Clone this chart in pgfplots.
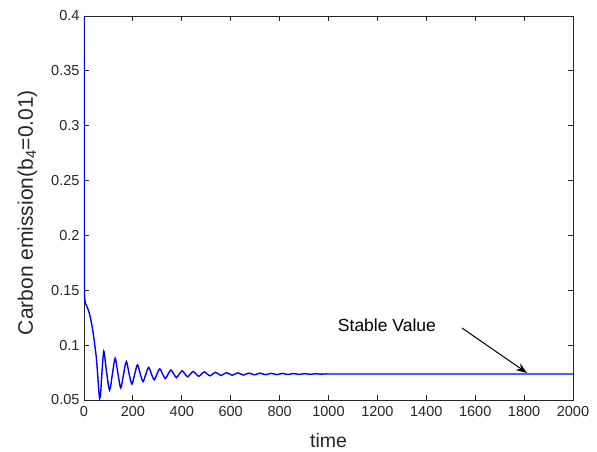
\documentclass[border=0pt]{standalone}
\usepackage{fontspec}
\setmainfont{Liberation Sans}
\usepackage{pgfplots}
\pgfplotsset{compat=1.18}
\usetikzlibrary{arrows.meta}
\definecolor{axgray}{RGB}{38,38,38}
\definecolor{mblue}{RGB}{0,0,255}
\begin{document}
\begin{tikzpicture}
\begin{axis}[
  scale only axis,
  width=489pt, height=384pt,
  xmin=0, xmax=2000, ymin=0.05, ymax=0.4,
  xtick={0,200,...,2000},
  ytick={0.05,0.1,0.15,0.2,0.25,0.3,0.35,0.4},
  yticklabels={0.05,0.1,0.15,0.2,0.25,0.3,0.35,0.4},
  xticklabel style={/pgf/number format/1000 sep={}},
  /pgf/number format/assume math mode=true,
  tick align=inside,
  major tick length=5pt,
  axis line style={axgray, line width=0.9pt},
  every tick/.style={axgray, line width=0.8pt},
  tick label style={font=\fontsize{14.5}{16}\selectfont, text=axgray},
  xticklabel style={yshift=-3pt},
  yticklabel style={xshift=-1pt},
  xlabel={time},
  ylabel={Carbon emission(b\textsubscript{4}=0.01)},
  xlabel style={font=\fontsize{19.5}{22}\selectfont, text=axgray, at={(axis description cs:0.5,0)}, anchor=base, yshift=-48pt},
  ylabel style={font=\fontsize{21}{24}\selectfont, text=axgray, at={(axis description cs:0,0.488)}, anchor=base, yshift=51pt},
  clip=true,
]
\addplot[mblue, line width=1.4pt] coordinates {(0,0.400) (1.5,0.150)};
\addplot[mblue, line width=1.4pt, smooth, tension=0.5] coordinates {
(1.5,0.150) (4,0.140) (10,0.136) (16,0.133) (23,0.128) (30,0.121) (36,0.113) (43,0.102) (50,0.0895) (56,0.073) (60,0.060) (64,0.0515) (68,0.056) (73,0.0737) (78,0.089) (82,0.0940)
(93.4,0.0737) (104.8,0.0590) (116.2,0.0737) (127.6,0.0880) (139.0,0.0737) (150.4,0.0610)
(161.8,0.0737) (173.2,0.0850) (184.6,0.0737) (196.0,0.0645) (207.4,0.0737) (218.8,0.0820)
(230.2,0.0737) (241.6,0.0667) (253.0,0.0737) (264.4,0.0797) (275.8,0.0737) (287.2,0.0684)
(298.6,0.0737) (310.0,0.0784) (321.4,0.0737) (332.8,0.0695) (344.2,0.0737) (355.6,0.0774)
(367.0,0.0737) (378.4,0.0704) (389.8,0.0737) (401.2,0.0766) (412.6,0.0737) (424.0,0.0711)
(435.4,0.0737) (446.8,0.0760) (458.2,0.0737) (469.6,0.0716) (481.0,0.0737) (492.4,0.0756)
(503.8,0.0737) (515.2,0.0720) (526.6,0.0737) (538.0,0.0752) (549.4,0.0737) (560.8,0.0723)
(572.2,0.0737) (583.6,0.0750) (595.0,0.0737) (606.4,0.0725) (617.8,0.0737) (629.2,0.0748)
(640.6,0.0737) (652.0,0.0727) (663.4,0.0737) (674.8,0.0746) (686.2,0.0737) (697.6,0.0729)
(709.0,0.0737) (720.4,0.0745) (731.8,0.0737) (743.2,0.0730) (754.6,0.0737) (766.0,0.0743)
(777.4,0.0737) (788.8,0.0731) (800.2,0.0737) (811.6,0.0742) (823.0,0.0737) (834.4,0.0732)
(845.8,0.0737) (857.2,0.0741) (868.6,0.0737) (880.0,0.0733) (891.4,0.0737) (902.8,0.0740)
(914.2,0.0737) (925.6,0.0734) (937.0,0.0737) (948.4,0.0739) (959.8,0.0737) (971.2,0.0735)
(982.6,0.0737) (994.0,0.0738) (1005.4,0.0737) (1200,0.0737) (1600,0.0737) (2000,0.0737)
};
\node[font=\fontsize{17.5}{20}\selectfont, text=black] at (axis cs:1239,0.1184) {Stable Value};
\draw[-{Stealth[length=11pt,width=8pt]}, black, line width=1pt] (axis cs:1546,0.1156) -- (axis cs:1812,0.0746);
\end{axis}
\path (current axis.south west) ++(-84pt,-51pt) coordinate (bbA);
\path (current axis.north east) ++(24pt,16pt) coordinate (bbB);
\path (bbA) rectangle (bbB);
\end{tikzpicture}
\end{document}
